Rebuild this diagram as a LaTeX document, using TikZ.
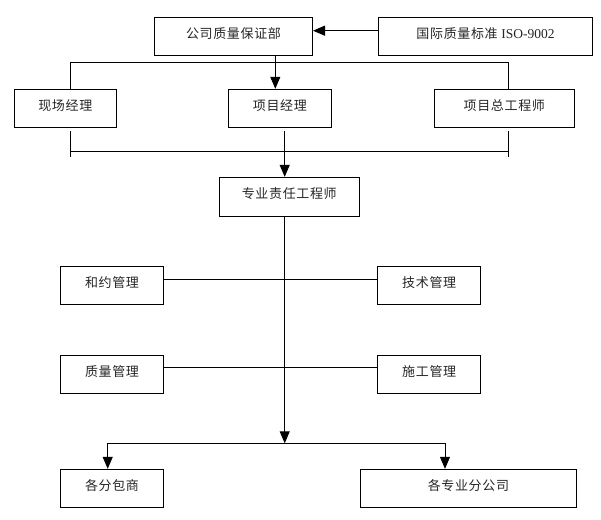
\documentclass[tikz,border=0pt]{standalone}
\usepackage{fontspec}
\setmainfont{Liberation Serif}
\newfontfamily\cjk[LetterSpace=5]{Noto Sans CJK SC}
\usetikzlibrary{arrows.meta}
\tikzset{
  box/.style={draw=black, line width=1pt, minimum height=38pt, inner sep=0pt,
    text height=9pt, text depth=5pt,
    font=\cjk\fontsize{13}{15}\selectfont, text=black!85},
  conn/.style={line width=1pt},
  arr/.style={line width=1pt, -{Triangle[length=12pt,width=10pt]}}
}
\begin{document}
\begin{tikzpicture}[x=1pt,y=-1pt]
\useasboundingbox (0,0) rectangle (601,519);
% boxes
\node[box, minimum width=158pt, minimum height=37.7pt] (gs) at (233.5,36.2) {公司质量保证部};
\node[box, minimum width=213.6pt, minimum height=37.7pt] (iso) at (485.5,36.2) {国际质量标准 {\rmfamily\fontsize{13.5}{15}\selectfont ISO-9002}};
\node[box, minimum width=102pt] (xc) at (65.3,108.3) {现场经理};
\node[box, minimum width=103.2pt] (xm) at (279.9,108.3) {项目经理};
\node[box, minimum width=140pt] (zg) at (504.3,108.3) {项目总工程师};
\node[box, minimum width=140pt, minimum height=38.7pt] (zy) at (289.3,196.7) {专业责任工程师};
\node[box, minimum width=102.6pt] (hy) at (112,285) {和约管理};
\node[box, minimum width=103pt] (js) at (429.2,285) {技术管理};
\node[box, minimum width=102.6pt] (zl) at (112,374.3) {质量管理};
\node[box, minimum width=103pt] (sg) at (429.2,374.3) {施工管理};
\node[box, minimum width=102.6pt] (fb) at (112,488.3) {各分包商};
\node[box, minimum width=215.2pt] (fg) at (468.4,488.3) {各专业分公司};
% helper coordinates
\coordinate (tl) at (70.7,62.7);
\coordinate (tr) at (508.3,62.7);
\coordinate (tx) at (275.3,0);
\coordinate (bl1) at (70.7,131);
\coordinate (bl2) at (70.7,157.3);
\coordinate (br1) at (508.3,131);
\coordinate (br2) at (508.3,157.3);
\coordinate (bl) at (70.7,151.7);
\coordinate (br) at (508.3,151.7);
\coordinate (cx1) at (284.7,131);
\coordinate (cx2) at (284.7,443.3);
\coordinate (fl) at (107.7,443.3);
\coordinate (fr) at (445,443.3);
% connectors
\draw[arr] ([yshift=5.5pt]iso.west) -- ([yshift=5.5pt]gs.east);
\draw[conn] (tl |- xc.north) -- (tl) -- (tr) -- (tr |- zg.north);
\draw[arr] (gs.south -| tx) -- (xm.north -| tx);
\draw[conn] (bl1) -- (bl2);
\draw[conn] (br1) -- (br2);
\draw[conn] (bl) -- (br);
\draw[arr] (cx1) -- (zy.north -| cx1);
\draw[arr] (zy.south -| cx1) -- (cx2);
\draw[conn] ([yshift=6pt]hy.east) -- ([yshift=6pt]js.west);
\draw[conn] ([yshift=7pt]zl.east) -- ([yshift=7pt]sg.west);
\draw[conn] (fl) -- (fr);
\draw[arr] (fl) -- (fb.north -| fl);
\draw[arr] (fr) -- (fg.north -| fr);
\end{tikzpicture}
\end{document}
